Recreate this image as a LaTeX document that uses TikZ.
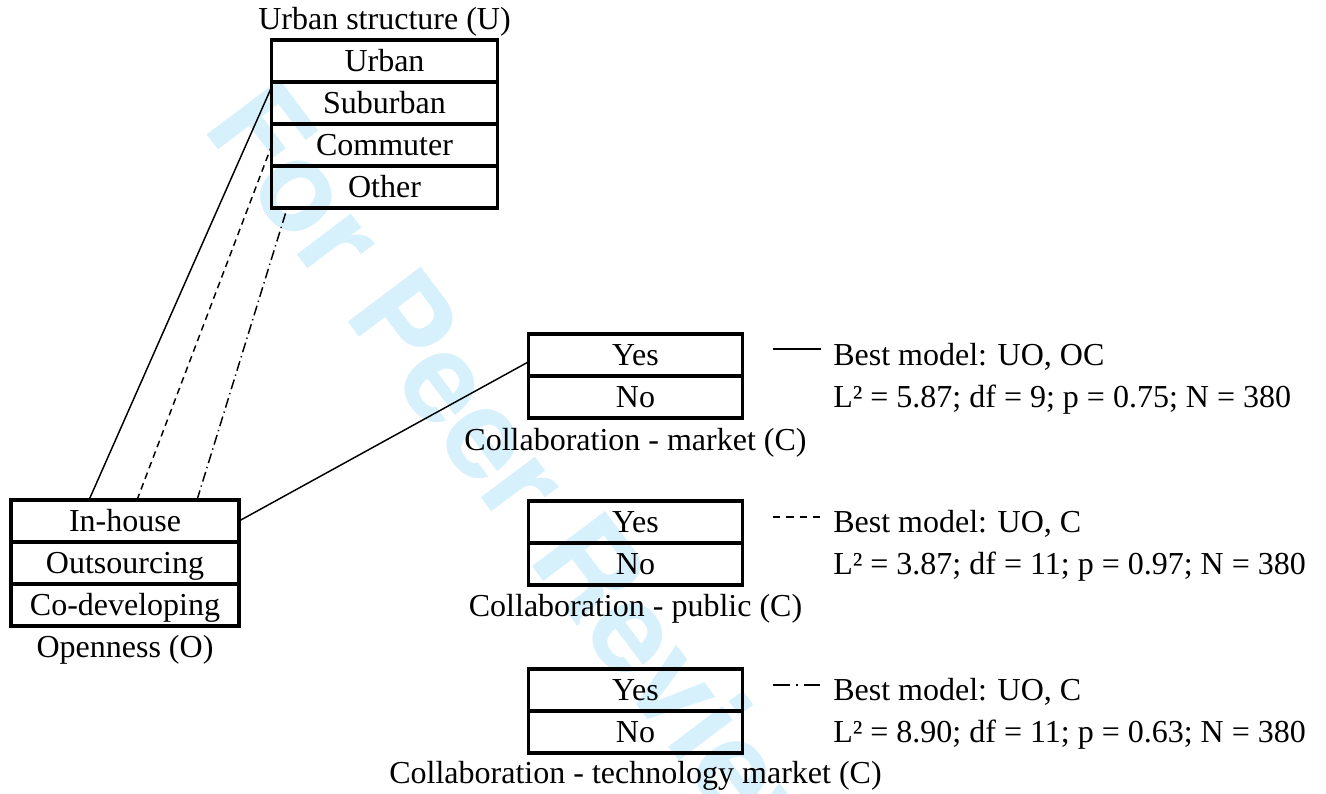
\documentclass[tikz,border=0pt]{standalone}
\usepackage{fontspec}
\setmainfont{Liberation Serif}
\newfontfamily\wmfont{TeX Gyre Heros}
\usetikzlibrary{positioning}
\definecolor{wmblue}{RGB}{214,240,252}

\begin{document}
\begin{tikzpicture}[x=0.75pt,y=-0.75pt,
    cell/.style={draw,line width=2.3pt,inner sep=0pt,outer sep=0pt,minimum height=31.5pt,text height=20pt,text depth=5pt,font=\fontsize{24}{28}\selectfont},
    ucell/.style={cell,minimum width=170pt},
    ocell/.style={cell,minimum width=171pt},
    ccell/.style={cell,minimum width=161pt},
    caption/.style={inner sep=0pt,text height=20pt,text depth=5pt,font=\fontsize{24}{28}\selectfont},
    link/.style={line width=1.1pt},
    dashlink/.style={link,dash pattern=on 5pt off 3.5pt},
    dotlink/.style={link,dash pattern=on 7.5pt off 3pt on 1pt off 3pt}]

    \useasboundingbox (0,0) rectangle (1326,793);

    \node[anchor=base west,rotate=-53,inner sep=0pt,text=wmblue,font=\wmfont\bfseries\fontsize{94}{94}\selectfont] (wm) at (201,127) {For Peer Review};

    % urban structure
    \node[ucell] (u1) at (384.5,61) {Urban};
    \node[ucell] (u2) [below=0pt of u1] {Suburban};
    \node[ucell] (u3) [below=0pt of u2] {Commuter};
    \node[ucell] (u4) [below=0pt of u3] {Other};
    \node[caption] (ulab) [above=3pt of u1] {Urban structure (U)};

    % openness
    \node[ocell] (o1) at (125,521) {In-house};
    \node[ocell] (o2) [below=0pt of o1] {Outsourcing};
    \node[ocell] (o3) [below=0pt of o2] {Co-developing};
    \node[caption] (olab) [below=3.5pt of o3] {Openness (O)};

    % collaboration
    \node[ccell] (m1) at (635.5,355) {Yes};
    \node[ccell] (m2) [below=0pt of m1] {No};
    \node[caption] (mlab) [below=4pt of m2] {Collaboration - market (C)};

    \node[ccell] (p1) at (635.5,522) {Yes};
    \node[ccell] (p2) [below=0pt of p1] {No};
    \node[caption] (plab) [below=3.5pt of p2] {Collaboration - public (C)};

    \node[ccell] (t1) at (635.5,690) {Yes};
    \node[ccell] (t2) [below=0pt of t1] {No};
    \node[caption] (tlab) [below=3pt of t2] {Collaboration - technology market (C)};

    % links
    \draw[link] ([xshift=58.5pt]o1.north west) to ([yshift=-4.5pt]u2.north west);
    \draw[dashlink] ([xshift=94.5pt]o1.north west) to ([yshift=-1.5pt]u3.west);
    \draw[dotlink] ([xshift=139.5pt]o1.north west) to ([xshift=12pt]u4.south west);
    \draw[link] (o1.east) to ([yshift=-5.25pt]m1.west);

    % legend
    \node[caption,anchor=base west] (b1) at (833,365) {Best model: UO, OC};
    \node[caption,anchor=base west] (s1) at (833,407) {L² = 5.87; df = 9; p = 0.75; N = 380};
    \node[caption,anchor=base west] (b2) at (833,532) {Best model: UO, C};
    \node[caption,anchor=base west] (s2) at (833,574) {L² = 3.87; df = 11; p = 0.97; N = 380};
    \node[caption,anchor=base west] (b3) at (833,700) {Best model: UO, C};
    \node[caption,anchor=base west] (s3) at (833,742) {L² = 8.90; df = 11; p = 0.63; N = 380};

    \coordinate (k1a) at (773,349); \coordinate (k1b) at (821,349);
    \coordinate (k2a) at (773,517); \coordinate (k2b) at (821,517);
    \coordinate (k3a) at (773,685); \coordinate (k3b) at (821,685);
    \draw[link] (k1a) to (k1b);
    \draw[link,dash pattern=on 5.5pt off 4.5pt] (k2a) to (k2b);
    \draw[link,dash pattern=on 12.5pt off 4.5pt on 1.5pt off 4.5pt] (k3a) to (k3b);
\end{tikzpicture}
\end{document}
